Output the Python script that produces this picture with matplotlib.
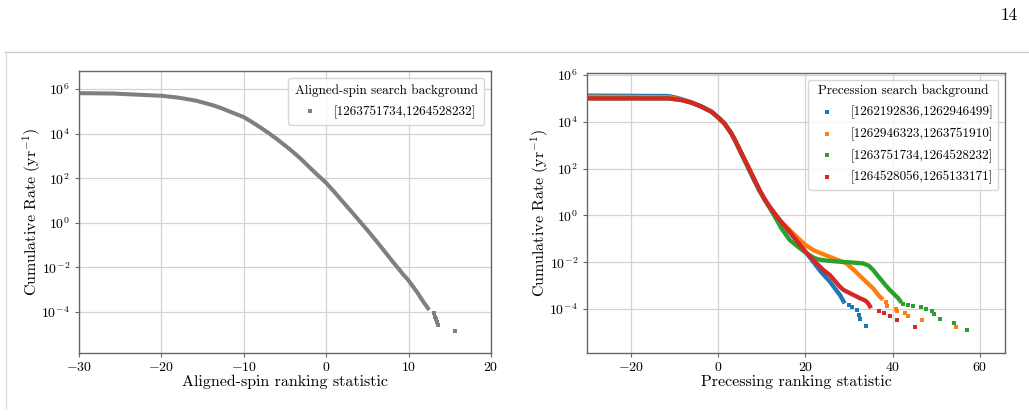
import numpy as np
import matplotlib
matplotlib.use("Agg")
import matplotlib.pyplot as plt
from matplotlib.lines import Line2D

plt.rcParams["font.family"] = "serif"
plt.rcParams["font.serif"] = ["cmr10", "DejaVu Serif"]
plt.rcParams["mathtext.fontset"] = "cm"
plt.rcParams["axes.formatter.use_mathtext"] = True

# aligned-spin background (gray), log10 of cumulative rate
aligned_x = [-31, -25.9, -21.9, -20, -17.85, -15.8, -13.8, -12.7, -11.7, -10, -9, -8, -7, -6,
             -5, -4, -3, -2, -1, 0, 1, 2, 3, 4, 5, 6, 7, 8, 8.65, 9.3, 9.94, 10.5, 11.08,
             11.5, 11.9, 12.5]
aligned_log = [5.82, 5.80, 5.73, 5.70, 5.61, 5.48, 5.28, 5.14, 4.99, 4.74, 4.52, 4.28, 4.03,
               3.76, 3.47, 3.17, 2.84, 2.48, 2.13, 1.79, 1.38, 0.95, 0.53, 0.10, -0.33, -0.78,
               -1.24, -1.71, -2.00, -2.30, -2.56, -2.84, -3.14, -3.38, -3.60, -3.91]
aligned_tail_x = [13.03, 13.19, 13.31, 13.43, 13.51, 15.62]
aligned_tail_log = [-4.06, -4.21, -4.33, -4.45, -4.58, -4.85]

# precession search backgrounds
blue_x = [-31, -11.5, -10, -8.4, -6.1, -3.8, -1.5, 0, 1.5, 3.0, 4.0, 5.0, 6.5, 8.0, 9.5, 10.7,
          11.8, 13.0, 14.1, 15.3, 16.4, 18.2, 20, 21.8, 23.5, 25.6, 27.9, 29.0]
blue_log = [5.12, 5.10, 5.05, 4.97, 4.83, 4.65, 4.43, 4.19, 3.92, 3.52, 3.17, 2.79, 2.23, 1.65,
            1.08, 0.68, 0.37, 0.07, -0.20, -0.46, -0.72, -1.12, -1.55, -1.98, -2.40, -2.83,
            -3.40, -3.76]
blue_tail_x = [30.0, 30.7, 31.9, 32.2, 32.5, 33.9]
blue_tail_log = [-3.84, -3.93, -4.04, -4.26, -4.44, -4.74]

orange_x = [-31, -11.5, -10, -8.4, -6.1, -3.8, -1.5, 0, 1.5, 3.0, 4.0, 5.0, 6.5, 8.0, 9.5, 10.7,
            11.8, 13.0, 14.5, 16.4, 18.2, 20, 21.8, 23.3, 26.4, 28.0, 29.4, 30.2, 31.4, 32.4,
            34.0, 35.5, 37.0, 37.8]
orange_log = [5.07, 5.05, 5.01, 4.95, 4.82, 4.65, 4.43, 4.19, 3.92, 3.52, 3.17, 2.79, 2.23, 1.65,
              1.08, 0.68, 0.37, 0.07, -0.28, -0.62, -0.95, -1.26, -1.48, -1.60, -1.83, -1.95,
              -2.05, -2.19, -2.38, -2.57, -2.85, -3.12, -3.47, -3.60]
orange_tail_x = [38.4, 38.7, 40.7, 41.0, 42.9, 43.5, 46.75, 54.4]
orange_tail_log = [-3.69, -3.87, -3.99, -4.07, -4.18, -4.30, -4.47, -4.77]

green_x = [-31, -11.5, -10, -8.4, -6.1, -3.8, -1.5, 0, 1.5, 3.0, 4.0, 5.0, 6.5, 8.0, 9.5, 10.7,
           11.8, 13.0, 14.5, 16.4, 18.3, 20, 21.8, 23.0, 24.8, 27.9, 30.5, 33.2, 34.5, 35.5,
           37.05, 38.2, 39.35, 41.25, 42.0]
green_log = [5.0, 5.0, 4.97, 4.93, 4.82, 4.65, 4.43, 4.19, 3.92, 3.52, 3.17, 2.76, 2.18, 1.60,
             1.04, 0.66, 0.33, -0.05, -0.55, -1.05, -1.34, -1.58, -1.80, -1.88, -1.93, -1.98,
             -2.01, -2.05, -2.15, -2.33, -2.69, -2.95, -3.19, -3.54, -3.73]
green_tail_x = [42.4, 43.4, 44.55, 46.4, 47.5, 49.05, 49.4, 50.8, 54.0, 57.0]
green_tail_log = [-3.80, -3.83, -3.87, -3.93, -3.99, -4.07, -4.21, -4.43, -4.61, -4.91]

red_x = [-31, -11.5, -10, -8.4, -6.1, -3.8, -1.5, 0, 1.5, 3.0, 4.0, 5.0, 6.5, 8.0, 9.5, 10.7,
         11.8, 13.0, 14.1, 15.3, 16.4, 18.2, 20, 22.0, 24.1, 25.6, 27.0, 27.9, 28.7, 29.4, 31.0,
         32.5, 33.5, 34.1, 34.6, 35.0]
red_log = [5.0, 5.0, 4.97, 4.93, 4.82, 4.65, 4.43, 4.19, 3.92, 3.52, 3.17, 2.79, 2.23, 1.65,
           1.08, 0.68, 0.37, 0.07, -0.20, -0.46, -0.70, -1.12, -1.55, -1.95, -2.33, -2.55,
           -2.85, -3.05, -3.18, -3.25, -3.40, -3.54, -3.62, -3.70, -3.82, -3.97]
red_tail_x = [36.9, 38.0, 39.3, 40.9, 45.1]
red_tail_log = [-4.07, -4.16, -4.30, -4.46, -4.76]

precession_series = [
    ("[1262192836,1262946499]", "#1f77b4", blue_x, blue_log, blue_tail_x, blue_tail_log),
    ("[1262946323,1263751910]", "#ff7f0e", orange_x, orange_log, orange_tail_x, orange_tail_log),
    ("[1263751734,1264528232]", "#2ca02c", green_x, green_log, green_tail_x, green_tail_log),
    ("[1264528056,1265133171]", "#d62728", red_x, red_log, red_tail_x, red_tail_log),
]

fig = plt.figure(figsize=(10.29, 4.15), dpi=100)
ax1 = fig.add_axes([79 / 1029, 62 / 415, 412 / 1029, 282 / 415])
ax2 = fig.add_axes([587 / 1029, 62 / 415, 418 / 1029, 280 / 415])

TICK_FS = 10
LABEL_FS = 11.5
LEG_FS = 9.5


def style(ax):
    ax.set_yscale("log")
    ax.grid(True, color="#d3d3d3", lw=0.9)
    ax.set_axisbelow(True)
    for sp in ax.spines.values():
        sp.set_color("#666666")
        sp.set_linewidth(1.0)
    ax.tick_params(labelsize=TICK_FS, length=3, width=0.8, color="#666666")
    ax.tick_params(axis="x", pad=2.5)
    ax.set_yticks([1e-4, 1e-2, 1e0, 1e2, 1e4, 1e6])
    ax.yaxis.set_minor_locator(matplotlib.ticker.NullLocator())
    ax.set_ylabel("Cumulative Rate (yr$^{-1}$)", fontsize=LABEL_FS)


# left panel
ax1.plot(aligned_x, 10 ** np.array(aligned_log), color="#7f7f7f", lw=2.9, solid_capstyle="butt")
ax1.scatter(aligned_tail_x, 10 ** np.array(aligned_tail_log), s=5, marker="s", color="#7f7f7f",
            lw=0, label="[1263751734,1264528232]")
style(ax1)
ax1.set_xlim(-30, 20)
ax1.set_ylim(10 ** -5.84, 10 ** 6.81)
ax1.set_xticks([-30, -20, -10, 0, 10, 20])
ax1.set_xlabel("Aligned-spin ranking statistic", fontsize=LABEL_FS)
ax1.yaxis.set_label_coords(-0.088, 0.5)
ax1.xaxis.set_label_coords(0.5, -0.078)
ax1.legend(title="Aligned-spin search background", loc="upper right", fontsize=LEG_FS,
           title_fontsize=LEG_FS, labelspacing=0.62, borderpad=0.5)

# right panel
for lab, col, lx, ly, tx, ty in precession_series:
    ax2.plot(lx, 10 ** np.array(ly), color=col, lw=3.1, solid_capstyle="butt")
for lab, col, lx, ly, tx, ty in precession_series:
    ax2.scatter(tx, 10 ** np.array(ty), s=6, marker="s", color=col, lw=0, label=lab)
style(ax2)
ax2.set_xlim(-30, 65.7)
ax2.set_ylim(10 ** -5.88, 10 ** 6.085)
ax2.set_xticks([-20, 0, 20, 40, 60])
ax2.set_xlabel("Precessing ranking statistic", fontsize=LABEL_FS)
ax2.yaxis.set_label_coords(-0.085, 0.5)
ax2.xaxis.set_label_coords(0.5, -0.079)
ax2.legend(title="Precession search background", loc="upper right", fontsize=LEG_FS,
           title_fontsize=LEG_FS, labelspacing=0.62)

# page decorations
fig.add_artist(Line2D([5 / 1029, 1.0], [1 - 52 / 415] * 2, color="#cccccc", lw=1))
fig.add_artist(Line2D([6 / 1029] * 2, [1 - 52 / 415, 1 - 408 / 415], color="#dddddd", lw=1))
fig.text(1009 / 1029, 1 - 15 / 415, "14", fontsize=12.5, ha="center", va="center")

fig.savefig("out.png", dpi=100)
